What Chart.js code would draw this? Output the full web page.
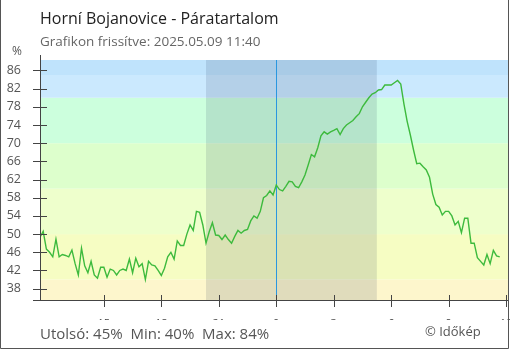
<!DOCTYPE html>
<html>
<head>
<meta charset="utf-8">
<script src="https://cdn.jsdelivr.net/npm/chart.js@4.4.1/dist/chart.umd.min.js"></script>
<style>
  html, body { margin: 0; padding: 0; background: #fff; }
</style>
</head>
<body>
<canvas id="chart" width="510" height="350"></canvas>
<script>
// humidity readings, one every 10 minutes from 11:40 (day 1) to 11:40 (day 2)
var humidity = [
  49.3, 50.6, 46.7, 46.0, 45.0, 48.9, 45.0, 45.5, 45.3, 45.0,
  46.5, 43.5, 41.0, 46.9, 43.0, 41.5, 44.0, 41.0, 40.3, 42.7,
  42.7, 40.5, 42.3, 42.0, 41.0, 42.0, 42.3, 42.0, 44.5, 41.5,
  44.7, 42.8, 43.5, 40.0, 44.0, 43.2, 43.0, 42.0, 40.9, 42.5,
  45.0, 46.0, 44.5, 48.5, 47.5, 47.5, 50.0, 52.0, 50.8, 55.0,
  54.8, 52.0, 48.0, 50.5, 52.5, 49.8, 49.7, 48.8, 49.8, 48.8,
  48.0, 49.5, 50.8, 50.2, 50.8, 51.0, 52.9, 54.0, 53.5, 55.0,
  58.0, 58.5, 59.5, 58.6, 60.8, 59.8, 59.5, 60.5, 61.6, 61.5,
  60.5, 60.2, 61.5, 63.0, 65.2, 67.5, 67.0, 69.0, 71.6, 72.5,
  72.0, 72.5, 72.8, 73.2, 71.9, 73.2, 74.0, 74.5, 75.0, 75.8,
  76.5, 78.0, 79.0, 80.0, 80.8, 81.1, 81.7, 81.8, 82.8, 82.8,
  82.8, 83.3, 83.8, 83.0, 78.6, 74.8, 71.8, 68.5, 65.5, 65.6,
  64.8, 64.1, 62.5, 58.8, 56.5, 55.9, 54.2, 55.0, 55.0, 54.0,
  52.0, 52.8, 50.3, 53.5, 53.5, 48.0, 48.0, 44.8, 44.0, 43.2,
  45.5, 43.5, 46.4, 45.2, 45.0
];
var startMinute = 11 * 60 + 40;   // 11:40 of the first day
var stepMinutes = 10;

// hours counted from midnight of the first day
var xTickHours = [15, 18, 21, 24, 27, 30, 33, 36];
var yTickValues = [38, 42, 46, 50, 54, 58, 62, 66, 70, 74, 78, 82, 86];

// night (sunset -> sunrise), minutes from midnight of day 1
var nightFrom = 20 * 60 + 20;
var nightTo = 29 * 60 + 15;
var midnight = 24 * 60;

// background bands
var bandLimits = [-100, 40, 50, 60, 70, 80, 85, 200];
var bandColors = ["#fdf6cc", "#f6fdc3", "#eeffcc", "#ddffcc", "#ccffdd", "#cbe9fe", "#bfe3fc"];

var FONT = '"Open Sans", "Noto Sans", sans-serif';

var points = humidity.map(function (v, i) {
  return { x: startMinute + i * stepMinutes, y: v };
});

var last = Math.round(humidity[humidity.length - 1]);
var minV = Math.round(Math.min.apply(null, humidity));
var maxV = Math.round(Math.max.apply(null, humidity));

var decorPlugin = {
  id: "decor",
  beforeDatasetsDraw: function (chart) {
    var ctx = chart.ctx;
    var a = chart.chartArea;
    var x = chart.scales.x;
    var y = chart.scales.y;
    ctx.save();
    // bands
    for (var i = 0; i < bandColors.length; i++) {
      var top = Math.max(a.top, y.getPixelForValue(bandLimits[i + 1]));
      var bot = Math.min(a.bottom, y.getPixelForValue(bandLimits[i]));
      if (bot <= top) continue;
      ctx.fillStyle = bandColors[i];
      ctx.fillRect(a.left, top, a.right - a.left, bot - top);
    }
    // night
    var nx1 = x.getPixelForValue(nightFrom);
    var nx2 = x.getPixelForValue(nightTo);
    ctx.fillStyle = "rgba(20, 30, 70, 0.12)";
    ctx.fillRect(nx1, a.top, nx2 - nx1, a.bottom - a.top);
    // midnight line
    var mx = Math.round(x.getPixelForValue(midnight)) + 0.5;
    ctx.strokeStyle = "#2a97e0";
    ctx.lineWidth = 1;
    ctx.beginPath();
    ctx.moveTo(mx, a.top);
    ctx.lineTo(mx, a.bottom);
    ctx.stroke();
    ctx.restore();
  },
  afterDraw: function (chart) {
    var ctx = chart.ctx;
    var a = chart.chartArea;
    var x = chart.scales.x;
    var y = chart.scales.y;
    ctx.save();
    ctx.strokeStyle = "#444";
    ctx.lineWidth = 1;
    ctx.beginPath();
    // axis lines
    var ax = Math.round(a.left) + 0.5;
    var ay = Math.round(a.bottom) + 0.5;
    ctx.moveTo(ax, a.top - 5);
    ctx.lineTo(ax, ay);
    ctx.moveTo(a.left - 7, ay);
    ctx.lineTo(a.right, ay);
    // y ticks
    y.ticks.forEach(function (t) {
      var py = Math.round(y.getPixelForValue(t.value)) + 0.5;
      ctx.moveTo(a.left - 7, py);
      ctx.lineTo(a.left + 7, py);
    });
    // x ticks
    x.ticks.forEach(function (t) {
      var px = Math.round(x.getPixelForValue(t.value)) + 0.5;
      ctx.moveTo(px, a.bottom - 5);
      ctx.lineTo(px, a.bottom + 7);
    });
    ctx.stroke();

    // frame
    ctx.strokeStyle = "#555";
    ctx.beginPath();
    ctx.moveTo(0.5, 0);
    ctx.lineTo(0.5, 348.5);
    ctx.lineTo(508.5, 348.5);
    ctx.lineTo(508.5, 0);
    ctx.stroke();

    // texts
    ctx.textBaseline = "alphabetic";
    ctx.textAlign = "left";
    ctx.fillStyle = "#222";
    ctx.font = "16px " + FONT;
    ctx.fillText("Horní Bojanovice - Páratartalom", 40, 24);
    ctx.fillStyle = "#666";
    ctx.font = "13.5px " + FONT;
    ctx.fillText("Grafikon frissítve: 2025.05.09 11:40", 40, 45.5);
    ctx.fillStyle = "#555";
    ctx.font = "12px " + FONT;
    ctx.textAlign = "center";
    ctx.fillText("%", 17, 55);
    ctx.textAlign = "left";
    ctx.fillStyle = "#555";
    ctx.font = "15px " + FONT;
    ctx.fillText("Utolsó: " + last + "%  Min: " + minV + "%  Max: " + maxV + "%", 40, 339);
    ctx.font = "13px " + FONT;
    ctx.fillText("© Időkép", 425, 336);
    ctx.restore();
  }
};

var ctx = document.getElementById("chart").getContext("2d");
var chart = new Chart(ctx, {
  type: "line",
  data: {
    datasets: [
      {
        data: points,
        borderColor: "#3dba3d",
        borderWidth: 1.4,
        pointRadius: 0,
        fill: false,
        tension: 0
      }
    ]
  },
  options: {
    responsive: false,
    animation: false,
    layout: { padding: { top: 60, right: 1, bottom: 30, left: 0 } },
    plugins: {
      legend: { display: false },
      tooltip: { enabled: false }
    },
    scales: {
      x: {
        type: "linear",
        min: startMinute,
        max: startMinute + 1469,
        grid: { display: false },
        border: { display: false },
        afterBuildTicks: function (s) {
          s.ticks = xTickHours.map(function (h) { return { value: h * 60 }; });
        },
        afterFit: function (s) {
          s.height = 20;
          s.paddingLeft = 0;
          s.paddingRight = 0;
        },
        ticks: {
          autoSkip: false,
          maxRotation: 0,
          padding: 9,
          color: "#444",
          font: { family: FONT, size: 11 },
          callback: function (v) { return String((v / 60) % 24); }
        }
      },
      y: {
        min: 35.5,
        max: 88.3,
        grid: { display: false },
        border: { display: false },
        afterBuildTicks: function (s) {
          s.ticks = yTickValues.map(function (v) { return { value: v }; });
        },
        afterFit: function (s) {
          s.width = 40;
        },
        ticks: {
          padding: 11,
          color: "#555",
          font: { family: FONT, size: 12.5 }
        }
      }
    }
  },
  plugins: [decorPlugin]
});
</script>
</body>
</html>
